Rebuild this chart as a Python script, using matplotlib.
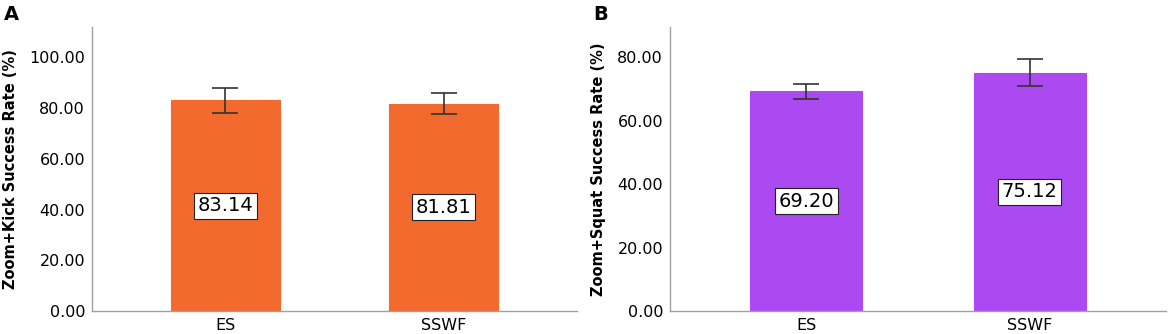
import matplotlib
matplotlib.use("Agg")
import matplotlib.pyplot as plt
from matplotlib.ticker import FormatStrFormatter

# ---- data ----
groups = ["ES", "SSWF"]
kick_rate = [83.14, 81.81]
kick_err = [4.9, 4.2]
squat_rate = [69.20, 75.12]
squat_err = [2.4, 4.3]

plt.rcParams["font.family"] = ["DejaVu Sans"]

fig = plt.figure(figsize=(11.70, 3.34), dpi=100)
W, H = 1170, 334


def panel(left_px, right_px, vals, errs, color, ylabel, yticks, ytop, letter, letter_x):
    ax = fig.add_axes([left_px / W, 1 - 311 / H, (right_px - left_px) / W, (311 - 27) / H])
    x = range(len(groups))
    ax.bar(x, vals, width=0.5, color=color, edgecolor=color, linewidth=0.8, zorder=2)
    ax.errorbar(x, vals, yerr=errs, fmt="none", ecolor="#333333", elinewidth=1.2,
                capsize=9.5, capthick=1.2, zorder=3)
    for xi, v in zip(x, vals):
        ax.text(xi, v / 2, f"{v:.2f}", ha="center", va="center", fontsize=14, zorder=4,
                bbox=dict(boxstyle="square,pad=0.18", fc="white", ec="#222222", lw=0.8))
    ax.set_xlim(-0.61, 1.61)
    ax.set_ylim(0, ytop)
    ax.set_yticks(yticks)
    ax.yaxis.set_major_formatter(FormatStrFormatter("%.2f"))
    ax.set_xticks(list(x))
    ax.set_xticklabels(groups)
    ax.tick_params(axis="both", length=0, labelsize=11.5, pad=5)
    ax.tick_params(axis="x", pad=5)
    for s in ("top", "right"):
        ax.spines[s].set_visible(False)
    for s in ("left", "bottom"):
        ax.spines[s].set_color("#a0a0a0")
        ax.spines[s].set_linewidth(1.0)
    ax.set_ylabel(ylabel, fontsize=10.5, fontweight="bold", labelpad=8)
    fig.text(letter_x / W, 1 - 14 / H, letter, fontsize=14, fontweight="bold", va="center")
    return ax


panel(92, 577, kick_rate, kick_err, "#f26a2e", "Zoom+Kick Success Rate (%)",
      [0, 20, 40, 60, 80, 100], 112, "A", 4)
panel(670, 1166, squat_rate, squat_err, "#aa4af0", "Zoom+Squat Success Rate (%)",
      [0, 20, 40, 60, 80], 89.5, "B", 593)

fig.savefig("out.png", dpi=100)
